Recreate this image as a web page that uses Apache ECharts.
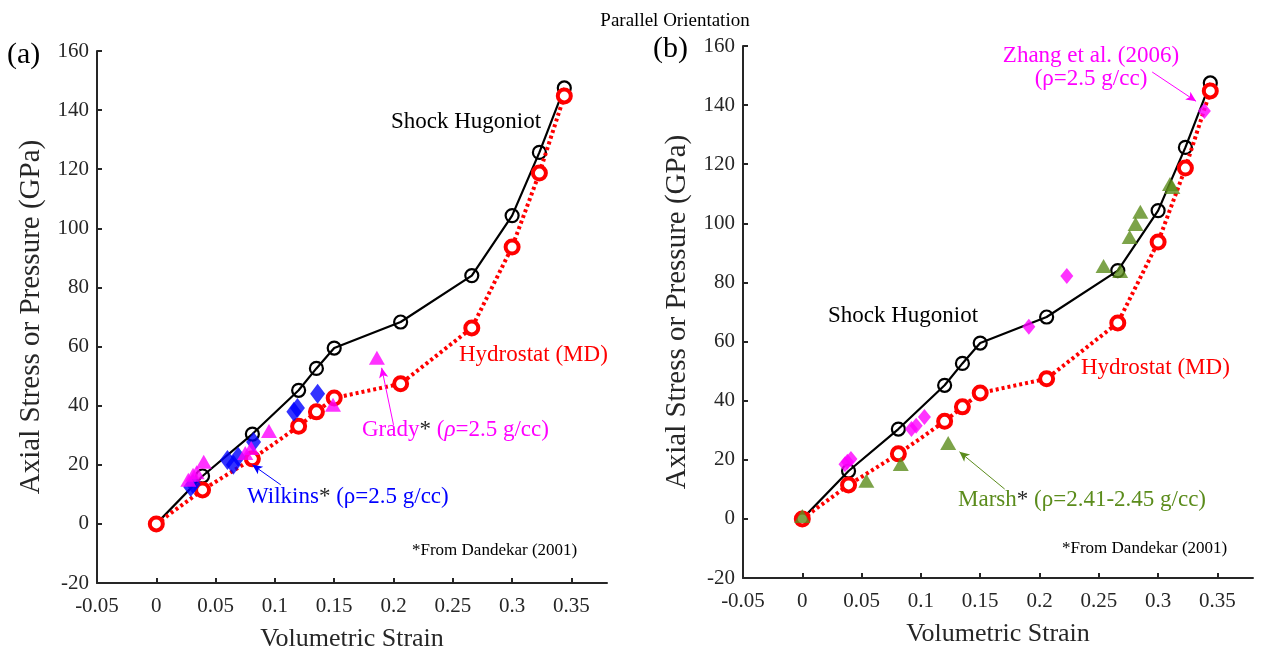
<!DOCTYPE html>
<html>
<head>
<meta charset="utf-8">
<script src="https://cdn.jsdelivr.net/npm/echarts@6/dist/echarts.min.js"></script>
<style>html,body{margin:0;padding:0;background:#fff}#c{width:1261px;height:658px}</style>
</head>
<body>
<div id="c"></div>
<script>
// ---- data ----
const hugoniotX = [0, 0.039, 0.081, 0.12, 0.135, 0.15, 0.206, 0.266, 0.30, 0.323, 0.344];
const hugoniotY = [0, 16.2, 30.4, 45.2, 52.6, 59.5, 68.3, 84.0, 104.3, 125.7, 147.5];
const hydroX = [0, 0.039, 0.081, 0.12, 0.135, 0.15, 0.206, 0.266, 0.30, 0.323, 0.344];
const hydroY = [0, 11.5, 22.0, 33.0, 37.9, 42.6, 47.4, 66.3, 93.7, 118.7, 144.8];
const gradyX = [0.027, 0.031, 0.034, 0.040, 0.075, 0.080, 0.095, 0.149, 0.186];
const gradyY = [14.9, 16.6, 17.5, 21.0, 24.0, 25.7, 31.4, 40.3, 56.2];
const wilkinsX = [0.029, 0.031, 0.060, 0.065, 0.069, 0.082, 0.116, 0.119, 0.136];
const wilkinsY = [12.5, 13.5, 21.6, 20.0, 22.7, 27.7, 37.9, 39.2, 44.0];
const marshX = [0, 0.054, 0.083, 0.123, 0.254, 0.268, 0.276, 0.281, 0.285, 0.310, 0.312];
const marshY = [1, 12.9, 18.6, 25.7, 85.6, 83.9, 95.4, 99.8, 103.9, 113.3, 112.3];
const zhangX = [0.036, 0.038, 0.041, 0.092, 0.096, 0.103, 0.191, 0.223, 0.339];
const zhangY = [18.5, 19.3, 20.3, 30.4, 31.5, 34.5, 65.0, 82.2, 138.0];
const xTicks = [-0.05, 0, 0.05, 0.1, 0.15, 0.2, 0.25, 0.3, 0.35];
const yTicks = [-20, 0, 20, 40, 60, 80, 100, 120, 140, 160];
// annotation arrows (tail -> head), data coordinates
const gradyArrow = [[0.200, 33.5], [0.190, 52.8]];
const wilkinsArrow = [[0.105, 13.2], [0.081, 20.0]];
const zhangArrow = [[0.295, 151.2], [0.332, 141.3]];
const marshArrow = [[0.1706, 10.1], [0.1325, 22.7]];

const zip = (xs, ys) => xs.map((x, i) => [x, ys[i]]);
const FONT = '"Liberation Serif", "DejaVu Serif", serif';
const AX = '#262626';

function xAxis(gi) {
  return {
    gridIndex: gi, type: 'value', min: -0.05, max: 0.38,
    name: 'Volumetric Strain', nameLocation: 'middle', nameGap: 43,
    nameTextStyle: { fontFamily: FONT, fontSize: 26, color: AX },
    axisLine: { onZero: false, lineStyle: { color: AX, width: 2 } },
    axisTick: { inside: true, length: 5, lineStyle: { color: AX, width: 2 }, customValues: xTicks },
    axisLabel: { fontFamily: FONT, fontSize: 21, color: AX, margin: 13, customValues: xTicks,
      formatter: v => String(+v.toFixed(2)) },
    splitLine: { show: false }
  };
}
function yAxis(gi) {
  return {
    gridIndex: gi, type: 'value', min: -20, max: 160, interval: 20,
    name: 'Axial Stress or Pressure (GPa)', nameLocation: 'middle', nameGap: 51,
    nameTextStyle: { fontFamily: FONT, fontSize: 29, color: AX },
    axisLine: { onZero: false, lineStyle: { color: AX, width: 2 } },
    axisTick: { inside: true, length: 5, lineStyle: { color: AX, width: 2 } },
    axisLabel: { fontFamily: FONT, fontSize: 21, color: AX, margin: 8 },
    splitLine: { show: false }
  };
}
function arrowLine(pts, color) {
  return {
    silent: true, symbol: ['none', 'arrow'], symbolSize: [7, 10],
    label: { show: false }, emphasis: { disabled: true },
    lineStyle: { color: color, width: 1, type: 'solid' },
    data: [[{ coord: pts[0] }, { coord: pts[1] }]]
  };
}
function modelSeries(gi) {
  return [
    { type: 'line', xAxisIndex: gi, yAxisIndex: gi, data: zip(hugoniotX, hugoniotY), z: 3,
      symbol: 'circle', symbolSize: 13, showSymbol: true,
      lineStyle: { color: '#000', width: 2.2 },
      itemStyle: { color: 'rgba(255,255,255,0)', borderColor: '#000', borderWidth: 2.2 } },
    { type: 'line', xAxisIndex: gi, yAxisIndex: gi, data: zip(hydroX, hydroY), z: 4,
      symbol: 'circle', symbolSize: 13, showSymbol: true,
      lineStyle: { color: '#ff0000', width: 4, type: [3, 3] },
      itemStyle: { color: '#fff', borderColor: '#ff0000', borderWidth: 4 } }
  ];
}
const serie = (gi, xs, ys, sym, size, color, z, ml) => {
  const s = { type: 'scatter', xAxisIndex: gi, yAxisIndex: gi, data: zip(xs, ys), symbol: sym,
    symbolSize: size, itemStyle: { color: color }, z: z };
  if (ml) s.markLine = ml;
  return s;
};

const txt = (x, y, text, color, size, rich, align) => ({
  type: 'text', x: x, y: y, silent: true,
  style: { text: text, fill: color, font: (size || 23) + 'px ' + FONT, verticalAlign: 'middle',
    align: align || 'left', rich: rich }
});
const richSet = c => ({
  m: { fill: c, fontFamily: FONT, fontSize: 23 },
  k: { fill: '#262626', fontFamily: FONT, fontSize: 23 },
  i: { fill: c, fontFamily: FONT, fontSize: 23, fontStyle: 'italic' }
});

const chart = echarts.init(document.getElementById('c'));
chart.setOption({
  animation: false,
  backgroundColor: '#fff',
  title: { text: 'Parallel Orientation', left: 670, top: 7, textAlign: 'center',
    textStyle: { fontFamily: FONT, fontSize: 19, fontWeight: 'normal', color: '#000' } },
  grid: [
    { left: 97, top: 51, width: 510, height: 532 },
    { left: 743, top: 46, width: 510, height: 532 }
  ],
  xAxis: [xAxis(0), xAxis(1)],
  yAxis: [yAxis(0), yAxis(1)],
  series: [
    ...modelSeries(0),
    serie(0, wilkinsX, wilkinsY, 'diamond', [15, 20], '#0000ff', 5, arrowLine(wilkinsArrow, '#0000ff')),
    serie(0, gradyX, gradyY, 'triangle', [16, 14], '#ff00ff', 6, arrowLine(gradyArrow, '#ff00ff')),
    ...modelSeries(1),
    serie(1, marshX, marshY, 'triangle', [16, 14], '#5b8c1c', 5, arrowLine(marshArrow, '#5b8c1c')),
    serie(1, zhangX, zhangY, 'diamond', [13, 16], '#ff00ff', 6, arrowLine(zhangArrow, '#ff00ff'))
  ],
  graphic: [
    txt(7, 55, '(a)', '#000', 30),
    txt(653, 49, '(b)', '#000', 30),
    txt(391, 122, 'Shock Hugoniot', '#000', 23),
    txt(459, 355, 'Hydrostat (MD)', '#ff0000', 23),
    txt(362, 430, '{m|Grady}{k|*}{m| (}{i|ρ}{m|=2.5 g/cc)}', '#ff00ff', 23, richSet('#ff00ff')),
    txt(247, 497, '{m|Wilkins}{k|*}{m| (ρ=2.5 g/cc)}', '#0000ff', 23, richSet('#0000ff')),
    txt(412, 551, '*From Dandekar (2001)', '#000', 17),
    txt(1091, 56, 'Zhang et al. (2006)', '#ff00ff', 23, null, 'center'),
    txt(1091, 79, '(ρ=2.5 g/cc)', '#ff00ff', 23, null, 'center'),
    txt(828, 316, 'Shock Hugoniot', '#000', 23),
    txt(1081, 368, 'Hydrostat (MD)', '#ff0000', 23),
    txt(958, 500, '{m|Marsh}{k|*}{m| (ρ=2.41-2.45 g/cc)}', '#5b8c1c', 23, richSet('#5b8c1c')),
    txt(1062, 549, '*From Dandekar (2001)', '#000', 17)
  ]
});
</script>
</body>
</html>
